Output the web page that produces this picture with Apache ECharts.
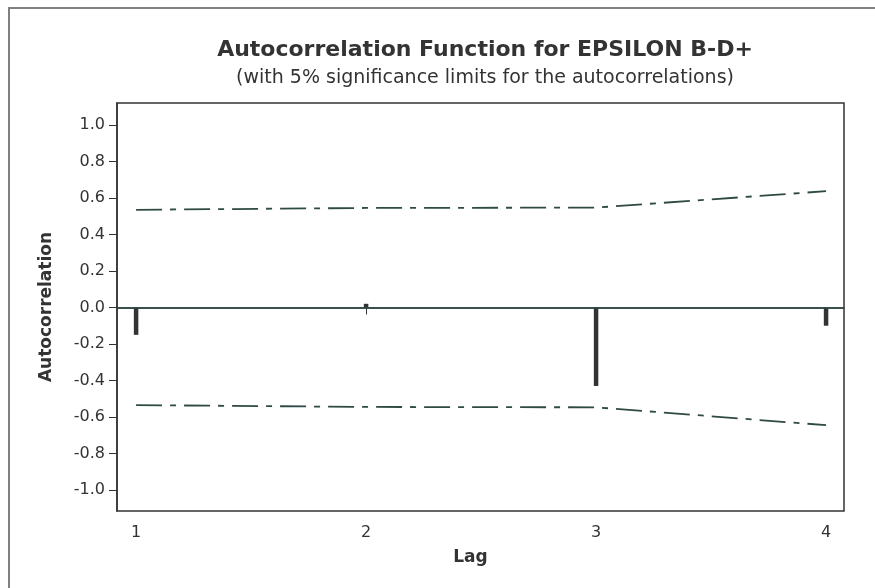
<!DOCTYPE html>
<html>
<head>
<meta charset="utf-8">
<script src="https://cdn.jsdelivr.net/npm/echarts@6/dist/echarts.min.js"></script>
<style>
html,body{margin:0;padding:0;background:#fff;}
#chart{width:875px;height:588px;}
</style>
</head>
<body>
<div id="chart"></div>
<script>
var lags = [1, 2, 3, 4];
var acf = [-0.15, 0.02, -0.43, -0.10];
var upperLimit = [0.535, 0.545, 0.547, 0.637];
var lowerLimit = [-0.535, -0.545, -0.547, -0.645];
var yTicks = [-1.0, -0.8, -0.6, -0.4, -0.2, 0.0, 0.2, 0.4, 0.6, 0.8, 1.0];
var xTicks = [1, 2, 3, 4];

var FONT = '"DejaVu Sans", Verdana, sans-serif';
var chart = echarts.init(document.getElementById('chart'));

var acfData = lags.map(function (l, i) { return [l, acf[i]]; });
var upData = lags.map(function (l, i) { return [l, upperLimit[i]]; });
var loData = lags.map(function (l, i) { return [l, lowerLimit[i]]; });

var limitStyle = { color: '#2f4a44', width: 1.8, type: [26, 8, 6, 8] };

chart.setOption({
  animation: false,
  backgroundColor: '#fff',
  title: [{
    text: 'Autocorrelation Function for EPSILON B-D+',
    left: 480, top: 34, textAlign: 'center',
    textStyle: { fontFamily: FONT, fontWeight: 'bold', fontSize: 22, color: '#333' }
  }, {
    text: '(with 5% significance limits for the autocorrelations)',
    left: 480, top: 64, textAlign: 'center',
    textStyle: { fontFamily: FONT, fontWeight: 'normal', fontSize: 19, color: '#333' }
  }],
  graphic: [{
    type: 'rect', shape: { x: 9, y: 8, width: 900, height: 620 },
    style: { fill: null, stroke: '#808080', lineWidth: 2 }, silent: true
  }],
  grid: { left: 117, top: 103, right: 31, bottom: 77, show: true, borderColor: '#333', borderWidth: 1.5, backgroundColor: '#fff' },
  xAxis: {
    type: 'value', min: 0.917, max: 4.078,
    name: 'Lag', nameLocation: 'middle', nameGap: 38,
    nameTextStyle: { fontFamily: FONT, fontWeight: 'bold', fontSize: 17, color: '#333', padding: [0, 20, 0, 0] },
    axisLine: { show: true, lineStyle: { color: '#333', width: 1.5 } },
    axisTick: { show: true, length: 7, lineStyle: { color: '#333' }, customValues: xTicks },
    axisLabel: { fontFamily: FONT, fontSize: 16, color: '#333', margin: 14, customValues: xTicks },
    splitLine: { show: false }
  },
  yAxis: {
    type: 'value', min: -1.115, max: 1.12,
    name: 'Autocorrelation', nameLocation: 'middle', nameGap: 62,
    nameTextStyle: { fontFamily: FONT, fontWeight: 'bold', fontSize: 17, color: '#333' },
    axisLine: { show: true, onZero: false, lineStyle: { color: '#333', width: 1.5 } },
    axisTick: { show: true, length: 8, lineStyle: { color: '#333' }, customValues: yTicks },
    axisLabel: { fontFamily: FONT, fontSize: 16, color: '#333', margin: 12, customValues: yTicks,
      formatter: function (v) { return v.toFixed(1); } },
    splitLine: { show: false }
  },
  series: [{
    type: 'line', data: upData, symbol: 'none', lineStyle: limitStyle, z: 3,
    markLine: {
      silent: true, symbol: 'none', label: { show: false },
      lineStyle: { color: '#2e4a44', width: 1.5, type: 'solid' },
      data: [{ yAxis: 0 }]
    }
  }, {
    type: 'line', data: loData, symbol: 'none', lineStyle: limitStyle, z: 3
  }, {
    type: 'custom', data: acfData, z: 4,
    renderItem: function (params, api) {
      var p0 = api.coord([api.value(0), 0]);
      var p1 = api.coord([api.value(0), api.value(1)]);
      return { type: 'line', shape: { x1: p0[0], y1: p0[1], x2: p1[0], y2: p1[1] },
        style: { stroke: '#333', lineWidth: 4.5 } };
    }
  }]
});
</script>
</body>
</html>
